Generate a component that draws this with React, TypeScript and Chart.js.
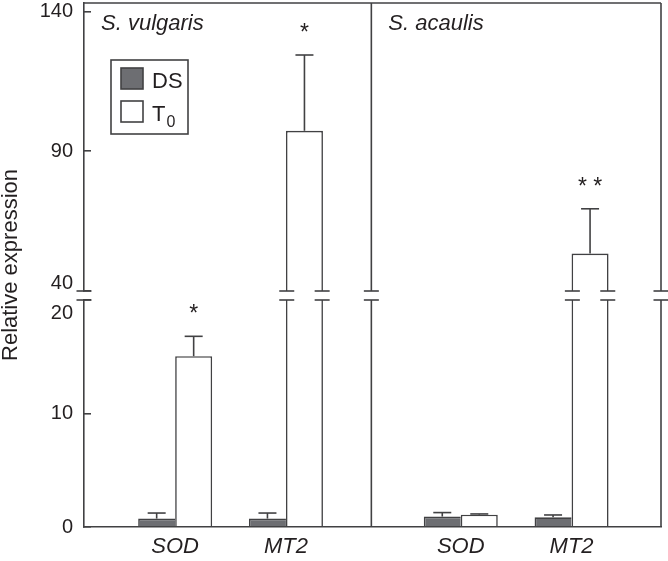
import React, { useEffect, useRef } from 'react';
import { Chart, registerables } from 'chart.js';

Chart.register(...registerables);

// ---------------- data ----------------
const CATEGORIES = ['SOD', 'MT2', 'SOD', 'MT2'];
const SPECIES = ['S. vulgaris', 'S. acaulis'];
const SERIES_NAMES = ['DS', 'T'];
const SERIES_SUBSCRIPTS = ['', '0'];
const DS_MEAN = [0.74, 0.74, 0.92, 0.85];
const DS_ERR_TOP = [1.23, 1.23, 1.27, 1.06];
const T0_MEAN = [15.05, 97.3, 1.09, 53.4];
const T0_ERR_TOP = [16.8, 124.4, 1.15, 69.4];
const T0_SIGNIFICANCE = ['*', '*', '', '* *'];
const LOW_TICKS = [0, 10, 20];
const HIGH_TICKS = [40, 90, 140];
const Y_TITLE = 'Relative expression';

// ---------------- layout / style ----------------
const W = 668;
const H = 561;
const X_POS = [0.158, 0.35, 0.653, 0.845];
const X_DIVIDER = 0.498;
const LOW_MIN = 0;
const LOW_MAX = 20;
const HIGH_MIN = 40;
const HIGH_MAX = 143;
const LINE = '#414143';
const TEXT = '#231f20';
const DS_FILL = '#6d6e72';
const LW = 1.6;
const BAR_W = 37;
const CAP_W = 18;
const BREAK_W = 15;
const FONT = '"Liberation Sans", Arial, Helvetica, sans-serif';

const decorPlugin = {
  id: 'decor',
  afterDatasetsDraw(chart: any) {
    const ctx = chart.ctx as CanvasRenderingContext2D;
    const ca = chart.chartArea;
    const xs = chart.scales.x;
    const yH = chart.scales.yHigh;
    const yL = chart.scales.yLow;
    const dsMeta = chart.getDatasetMeta(0);
    const t0Meta = chart.getDatasetMeta(1);
    const yOf = (v: number) => (v > LOW_MAX ? yH.getPixelForValue(v) : yL.getPixelForValue(v));

    ctx.save();
    ctx.strokeStyle = LINE;
    ctx.lineWidth = LW;
    ctx.lineCap = 'butt';
    const line = (x1: number, y1: number, x2: number, y2: number) => {
      ctx.beginPath();
      ctx.moveTo(x1, y1);
      ctx.lineTo(x2, y2);
      ctx.stroke();
    };

    // error bars (upper only)
    const errBar = (cx: number, v: number, e: number) => {
      const y0 = yOf(v);
      const y1 = yOf(e);
      line(cx, y0, cx, y1);
      line(cx - CAP_W / 2, y1, cx + CAP_W / 2, y1);
    };
    CATEGORIES.forEach((_, i) => {
      errBar(dsMeta.data[i].x, DS_MEAN[i], DS_ERR_TOP[i]);
      errBar(t0Meta.data[i].x, T0_MEAN[i], T0_ERR_TOP[i]);
    });

    // frame: top, divider and right border (broken)
    const top = ca.top;
    const bot = ca.bottom;
    const bH = yH.bottom;
    const tL = yL.top;
    const xDiv = xs.getPixelForValue(X_DIVIDER);
    line(ca.left, top, ca.right, top);
    [xDiv, ca.right].forEach((px) => {
      line(px, top, px, bH);
      line(px, tL, px, bot);
    });

    // break marks
    const edges: number[] = [ca.left, xDiv, ca.right];
    CATEGORIES.forEach((_, i) => {
      if (T0_MEAN[i] > LOW_MAX) {
        const el = t0Meta.data[i];
        edges.push(el.x - el.width / 2 + LW / 2, el.x + el.width / 2 - LW / 2);
      }
    });
    edges.forEach((px) => {
      line(px - BREAK_W / 2, bH, px + BREAK_W / 2, bH);
      line(px - BREAK_W / 2, tL, px + BREAK_W / 2, tL);
    });

    // significance asterisks
    ctx.fillStyle = TEXT;
    ctx.font = `23px ${FONT}`;
    ctx.textAlign = 'center';
    ctx.textBaseline = 'alphabetic';
    T0_SIGNIFICANCE.forEach((s, i) => {
      if (!s) return;
      ctx.fillText(s, t0Meta.data[i].x, yOf(T0_ERR_TOP[i]) - 15);
    });

    // panel titles
    ctx.font = `italic 22px ${FONT}`;
    ctx.textAlign = 'left';
    ctx.fillText(SPECIES[0], ca.left + 17, top + 27);
    ctx.fillText(SPECIES[1], xDiv + 17, top + 27);

    // legend
    const lx = ca.left + 27;
    const ly = top + 57;
    ctx.strokeRect(lx, ly, 77, 74);
    const fills = [DS_FILL, '#ffffff'];
    SERIES_NAMES.forEach((name, k) => {
      const sy = ly + 8 + k * 33;
      ctx.fillStyle = fills[k];
      ctx.fillRect(lx + 10, sy, 22, 21);
      ctx.strokeRect(lx + 10, sy, 22, 21);
      ctx.fillStyle = TEXT;
      ctx.font = `22px ${FONT}`;
      ctx.textAlign = 'left';
      ctx.fillText(name, lx + 41, sy + 19.5);
      if (SERIES_SUBSCRIPTS[k]) {
        const w = ctx.measureText(name).width;
        ctx.font = `16px ${FONT}`;
        ctx.fillText(SERIES_SUBSCRIPTS[k], lx + 41 + w + 1, sy + 26);
      }
    });

    // y axis title
    ctx.save();
    ctx.translate(11, (ca.top + ca.bottom) / 2);
    ctx.rotate(-Math.PI / 2);
    ctx.font = `22px ${FONT}`;
    ctx.textAlign = 'center';
    ctx.textBaseline = 'middle';
    ctx.fillText(Y_TITLE, 0, 0);
    ctx.restore();

    ctx.restore();
  },
};

const noPad = (s: any) => {
  s.paddingTop = 0;
  s.paddingBottom = 0;
  s.paddingLeft = 0;
  s.paddingRight = 0;
};

export default function App() {
  const canvasRef = useRef<HTMLCanvasElement | null>(null);

  useEffect(() => {
    document.body.style.margin = '0';
    const canvas = canvasRef.current;
    if (!canvas) return;

    const dsData = CATEGORIES.map((_, i) => ({ x: X_POS[i], y: DS_MEAN[i] }));
    const t0LowData = CATEGORIES.map((_, i) => ({ x: X_POS[i], y: Math.min(T0_MEAN[i], LOW_MAX) }));
    const t0HighData = CATEGORIES.map((_, i) =>
      T0_MEAN[i] > HIGH_MIN ? { x: X_POS[i], y: [HIGH_MIN, T0_MEAN[i]] } : null
    ).filter(Boolean);

    const yTickFont = (c: any) => ({
      family: FONT,
      size: 20,
      lineHeight: c.tick && c.tick.value === HIGH_MIN ? 0.8 : 1.3,
    });

    const chart = new Chart(canvas, {
      type: 'bar',
      data: {
        datasets: [
          {
            label: 'DS',
            data: dsData as any,
            yAxisID: 'yLow',
            stack: 'ds',
            backgroundColor: DS_FILL,
            borderColor: LINE,
            borderWidth: { top: LW, left: LW, right: 0, bottom: 0 } as any,
            barThickness: BAR_W,
            inflateAmount: 0,
          },
          {
            label: 'T0',
            data: t0LowData as any,
            yAxisID: 'yLow',
            stack: 't0',
            backgroundColor: '#ffffff',
            borderColor: LINE,
            borderWidth: ((c: any) => ({
              top: T0_MEAN[c.dataIndex ?? 0] > LOW_MAX ? 0 : LW,
              left: LW,
              right: LW,
              bottom: 0,
            })) as any,
            barThickness: BAR_W,
            inflateAmount: 0,
          },
          {
            label: 'T0 (upper)',
            data: t0HighData as any,
            yAxisID: 'yHigh',
            stack: 't0',
            backgroundColor: '#ffffff',
            borderColor: LINE,
            borderWidth: { top: LW, left: LW, right: LW, bottom: 0 } as any,
            barThickness: BAR_W,
            inflateAmount: 0,
          },
        ],
      },
      options: {
        responsive: false,
        animation: false,
        events: [],
        layout: { padding: { top: 3, right: 7, left: 0, bottom: 0 } },
        plugins: { legend: { display: false }, tooltip: { enabled: false } },
        scales: {
          x: {
            type: 'linear',
            position: 'bottom',
            min: 0,
            max: 1,
            offset: false,
            grid: { display: false, drawTicks: false },
            border: { display: true, color: LINE, width: LW, z: 1 } as any,
            ticks: {
              autoSkip: false,
              maxRotation: 0,
              padding: 7,
              color: TEXT,
              font: { family: FONT, size: 22, style: 'italic' },
              callback: (_v: any, i: number) => CATEGORIES[i],
            },
            afterBuildTicks: (s: any) => {
              s.ticks = X_POS.map((v) => ({ value: v }));
            },
            afterFit: (s: any) => {
              s.height = 34;
              noPad(s);
            },
          },
          yHigh: {
            type: 'linear',
            position: 'left',
            stack: 'y',
            stackWeight: 288,
            weight: 3,
            min: HIGH_MIN,
            max: HIGH_MAX,
            stacked: false,
            grid: { display: true, drawOnChartArea: false, drawTicks: true, tickLength: -7, color: LINE, lineWidth: LW },
            border: { display: true, color: LINE, width: LW },
            ticks: {
              autoSkip: false,
              padding: 18,
              color: TEXT,
              font: yTickFont as any,
              callback: (v: any) => (v === HIGH_MIN ? [String(v), ''] : String(v)),
            },
            afterBuildTicks: (s: any) => {
              s.ticks = HIGH_TICKS.map((v) => ({ value: v }));
            },
            afterFit: (s: any) => {
              s.width = 84;
              noPad(s);
            },
          } as any,
          yGap: {
            type: 'linear',
            position: 'left',
            stack: 'y',
            stackWeight: 9,
            weight: 2,
            grid: { display: false, drawTicks: false },
            border: { display: false },
            ticks: { display: false },
            afterFit: (s: any) => {
              s.width = 0;
              noPad(s);
            },
          } as any,
          yLow: {
            type: 'linear',
            position: 'left',
            stack: 'y',
            stackWeight: 227,
            weight: 1,
            min: LOW_MIN,
            max: LOW_MAX,
            stacked: false,
            grid: { display: true, drawOnChartArea: false, drawTicks: true, tickLength: -7, color: LINE, lineWidth: LW },
            border: { display: true, color: LINE, width: LW },
            ticks: {
              autoSkip: false,
              padding: 18,
              color: TEXT,
              font: { family: FONT, size: 20, lineHeight: 1.3 },
              callback: (v: any) => (v === LOW_MAX ? ['', String(v)] : String(v)),
            },
            afterBuildTicks: (s: any) => {
              s.ticks = LOW_TICKS.map((v) => ({ value: v }));
            },
            afterFit: (s: any) => {
              s.width = 84;
              noPad(s);
            },
          } as any,
        },
      },
      plugins: [decorPlugin],
    });

    return () => {
      chart.destroy();
    };
  }, []);

  return (
    <div style={{ width: W, height: H, position: 'relative' }}>
      <canvas ref={canvasRef} width={W} height={H} style={{ display: 'block' }} />
    </div>
  );
}
